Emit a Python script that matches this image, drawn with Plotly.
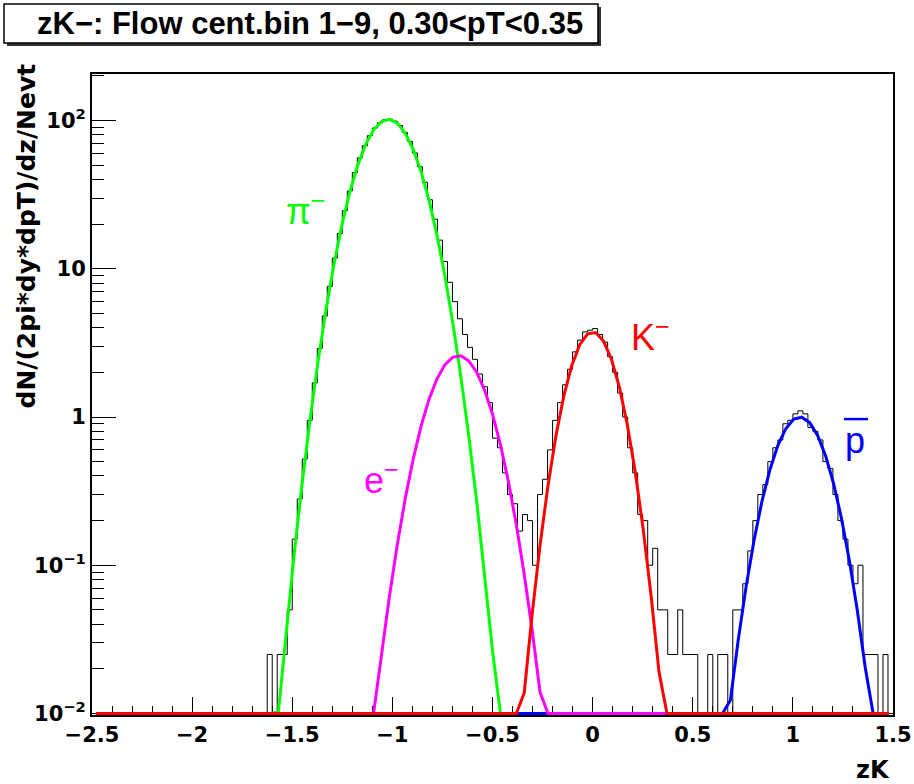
import numpy as np
import plotly.graph_objects as go

# ---------------- data ----------------
BIN_LOW = -2.5
BIN_WIDTH = 0.025
Y_MIN = 0.01

hist_values = (
    [0.0] * 34 +
    [0, 0.025, 0, 0.025, 0.025, 0.05, 0.15, 0.28, 0.52, 0.95,
     1.7, 2.9, 4.8, 7.6, 11.8, 17.3, 24.6, 33.5, 44.5, 56.0,
     67.5, 79.0, 89.0, 96.5, 101, 102, 99, 92.5, 83.2, 72.3,
     60.4, 48.8, 38.3, 29.2, 21.6, 15.6, 11.2, 8.1, 6.0, 4.6,
     3.6, 2.95, 2.45, 1.95, 1.6, 1.25, 0.72, 0.62, 0.42, 0.30,
     0.26, 0.17, 0.22, 0.2, 0.1, 0.3, 0.38, 0.6, 0.95, 1.25,
     1.65, 2.1, 2.75, 3.3, 3.75, 3.85, 3.95, 3.6, 3.2, 2.55,
     2.0, 1.45, 1.0, 0.62, 0.42, 0.22, 0.2, 0.1, 0.13, 0.05,
     0.05, 0.025, 0.025, 0.05, 0.025, 0.025, 0.025, 0, 0, 0.025,
     0, 0.025, 0.025, 0, 0.05, 0.05, 0.075, 0.125, 0.2, 0.3,
     0.35, 0.5, 0.62, 0.7, 0.9, 0.95, 1.05, 1.1, 1.05, 0.85,
     0.8, 0.7, 0.5, 0.45, 0.3, 0.2, 0.15, 0.1, 0.075, 0.1,
     0.025, 0.025, 0.025, 0, 0.025, 0]
)
assert len(hist_values) == 160

# Gaussian fit parameters
fit_names = ["pi-", "e-", "K-", "pbar"]
fit_amplitude = [102.0, 2.6, 3.75, 1.0]
fit_mean = [-1.02, -0.67, 0.0, 1.035]
fit_sigma = [0.128, 0.126, 0.102, 0.117]
fit_colors = ["#00ff00", "#ff00ff", "#ff0000", "#0000ff"]
draw_order = [0, 3, 1, 2]  # green, blue, magenta, red (red on top)

x_tick_vals = [-2.5, -2, -1.5, -1, -0.5, 0, 0.5, 1, 1.5]
x_tick_text = ["\u22122.5", "\u22122", "\u22121.5", "\u22121", "\u22120.5", "0", "0.5", "1", "1.5"]
y_tick_vals = [0.01, 0.1, 1, 10, 100]
y_tick_text = ["10<sup>\u22122</sup>", "10<sup>\u22121</sup>", "1", "10", "10<sup>2</sup>"]

title_text = "zK\u2212: Flow cent.bin 1\u22129, 0.30<pT<0.35"
x_title = "zK"
y_title = "dN/(2pi*dy*dpT)/dz/Nevt"

# ---------------- geometry (pixels) ----------------
W, H = 914, 784
L, R, T, B = 92, 21, 74, 69
PW, PH = W - L - R, H - T - B
DEC = 148.25
y_lo = -2.0 - 1.5 / DEC
y_hi = y_lo + PH / DEC


def px_x(px):
    return (px - L) / PW


def px_y(py):
    return (H - B - py) / PH


fig = go.Figure()

# histogram (step)
vals = np.maximum(np.array(hist_values, dtype=float), Y_MIN)
edges = BIN_LOW + BIN_WIDTH * np.arange(len(vals) + 1)
hx = np.repeat(edges, 2)[1:-1]
hy = np.repeat(vals, 2)
fig.add_trace(go.Scatter(x=hx, y=hy, mode="lines",
                         line=dict(color="black", width=1),
                         hoverinfo="skip", showlegend=False))

# fit curves
xf = np.linspace(-2.48, 1.48, 101)
for k in draw_order:
    yf = fit_amplitude[k] * np.exp(-0.5 * ((xf - fit_mean[k]) / fit_sigma[k]) ** 2)
    yf = np.maximum(yf, Y_MIN)
    fig.add_trace(go.Scatter(x=xf, y=yf, mode="lines",
                             line=dict(color=fit_colors[k], width=3),
                             hoverinfo="skip", showlegend=False))

AX_FONT = dict(family="DejaVu Sans, sans-serif", size=21, color="black", weight="bold")

fig.update_layout(
    width=W, height=H,
    margin=dict(l=L, r=R, t=T, b=B, pad=0),
    paper_bgcolor="white", plot_bgcolor="white",
    showlegend=False,
    xaxis=dict(
        range=[-2.5, 1.5], showgrid=False, zeroline=False, automargin=False,
        showline=True, mirror=True, linecolor="black", linewidth=2,
        layer="below traces",
        ticks="inside", ticklen=18, tickwidth=1, tickcolor="black",
        tickmode="array", tickvals=x_tick_vals, ticktext=x_tick_text,
        tickfont=AX_FONT,
        minor=dict(ticks="inside", ticklen=9, tickwidth=1, tickcolor="black",
                   tickmode="array",
                   tickvals=[round(v, 2) for v in np.arange(-2.5, 1.5001, 0.1)],
                   showgrid=False),
    ),
    yaxis=dict(
        type="log", range=[y_lo, y_hi], showgrid=False, zeroline=False, automargin=False,
        showline=True, mirror=True, linecolor="black", linewidth=2,
        layer="below traces",
        ticks="inside", ticklen=24, tickwidth=1, tickcolor="black",
        tickmode="array", tickvals=y_tick_vals, ticktext=y_tick_text,
        tickfont=AX_FONT,
        minor=dict(ticks="inside", ticklen=12, tickwidth=1, tickcolor="black",
                   tickmode="array",
                   tickvals=[m * 10.0 ** d for d in range(-2, 2) for m in range(2, 10)] + [200],
                   showgrid=False),
    ),
)

# title box with shadow
fig.add_shape(type="rect", xref="paper", yref="paper",
              x0=px_x(7), x1=px_x(601), y0=px_y(46), y1=px_y(7),
              fillcolor="#333333", line=dict(width=0), layer="above")
fig.add_shape(type="rect", xref="paper", yref="paper",
              x0=px_x(4), x1=px_x(598), y0=px_y(43), y1=px_y(4),
              fillcolor="white", line=dict(color="black", width=1.5), layer="above")
fig.add_annotation(xref="paper", yref="paper", x=px_x(310), y=px_y(24),
                   text=title_text, showarrow=False, xanchor="center", yanchor="middle",
                   font=dict(family="Liberation Sans, Arial, sans-serif", size=31,
                             color="black", weight="bold"))

# axis titles
fig.add_annotation(xref="paper", yref="paper", x=px_x(892), y=px_y(770),
                   text=x_title, showarrow=False, xanchor="right", yanchor="middle",
                   font=dict(family="DejaVu Sans, sans-serif", size=24,
                             color="black", weight="bold"))
fig.add_annotation(xref="paper", yref="paper", x=px_x(26), y=px_y(62),
                   text=y_title, showarrow=False, textangle=-90,
                   xanchor="center", yanchor="top",
                   font=dict(family="DejaVu Sans, sans-serif", size=25,
                             color="black", weight="bold"))

# species labels
LBL = dict(family="Liberation Sans, Arial, sans-serif", size=36)
fig.add_annotation(x=-1.43, y=1.40, text="\u03c0<sup>\u2212</sup>", showarrow=False,
                   font=dict(color="#00ff00", **LBL))
fig.add_annotation(x=-1.055, y=-0.41, text="e<sup>\u2212</sup>", showarrow=False,
                   font=dict(color="#ff00ff", **LBL))
fig.add_annotation(x=0.29, y=0.555, text="K<sup>\u2212</sup>", showarrow=False,
                   font=dict(color="#ff0000", **LBL))
fig.add_annotation(x=1.31, y=-0.16, text="p", showarrow=False,
                   font=dict(color="#0000ff", **LBL))
fig.add_shape(type="line", xref="x", yref="y", x0=1.255, x1=1.375, y0=0.968, y1=0.968,
              line=dict(color="#0000ff", width=2.5))

fig.write_html("out.html",
               config={"displayModeBar": False, "staticPlot": True},
               post_script="document.body.style.margin='0px';"
                           "document.body.style.overflow='hidden';")
